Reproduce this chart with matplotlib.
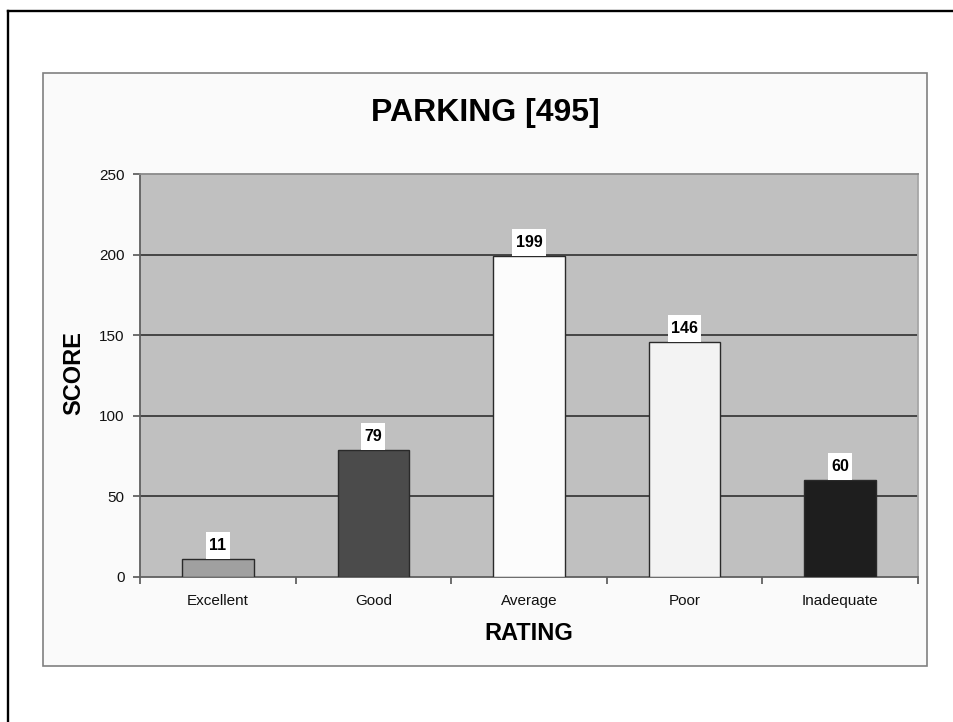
import matplotlib
matplotlib.use("Agg")
import matplotlib.pyplot as plt
from matplotlib.path import Path
from matplotlib.patches import Rectangle
from matplotlib.lines import Line2D
import numpy as np

categories = ["Excellent", "Good", "Average", "Poor", "Inadequate"]
scores = [11, 79, 199, 146, 60]
bar_colors = ["#a0a0a0", "#4b4b4b", "#fcfcfc", "#f3f3f3", "#1e1e1e"]
yticks = [0, 50, 100, 150, 200, 250]
title = "PARKING [495]"
xlabel = "RATING"
ylabel = "SCORE"

plt.rcParams['font.family'] = ['Liberation Sans', 'DejaVu Sans']

W, H = 954, 722
fig = plt.figure(figsize=(W / 100, H / 100), dpi=100)
fig.patch.set_facecolor("white")

# outer frame (top and left edges visible)
fig.add_artist(Line2D([7.8 / W, 7.8 / W], [-0.1, 1 - 11.2 / H], transform=fig.transFigure,
                      color="black", lw=1.7, solid_capstyle="projecting"))
fig.add_artist(Line2D([7.8 / W, 1.1], [1 - 11.2 / H, 1 - 11.2 / H], transform=fig.transFigure,
                      color="black", lw=1.7, solid_capstyle="projecting"))

# chart area box
fig.add_artist(Rectangle((43.5 / W, 1 - 666 / H), (927 - 43.5) / W, (666 - 72.7) / H,
                         transform=fig.transFigure, facecolor="#fafafa",
                         edgecolor="#808080", lw=1.2, zorder=0))

ax = fig.add_axes([140 / W, 1 - 577 / H, (918 - 140) / W, (577 - 174) / H])
ax.set_facecolor("#c0c0c0")

x = np.arange(len(categories))
bars = ax.bar(x, scores, width=0.46, color=bar_colors, edgecolor="#2a2a2a", lw=1.0, zorder=3)

ax.set_xlim(-0.5, len(categories) - 0.5)
ax.set_ylim(0, 250)
ax.set_yticks(yticks)
ax.set_yticklabels([str(v) for v in yticks], fontsize=11)
ax.set_xticks(x)
ax.set_xticklabels(categories, fontsize=11)
ax.set_xticks(np.arange(-0.5, len(categories), 1.0), minor=True)
ax.tick_params(axis="x", which="major", length=0, pad=12, colors="#111111")
ax.tick_params(axis="x", which="minor", length=5, width=1.2, color="#555555", direction="out")
ax.tick_params(axis="y", length=5, width=1.2, color="#555555", pad=6, labelcolor="#111111")

for yv in yticks[1:-1]:
    ax.axhline(yv, color="#3c3c3c", lw=1.3, zorder=1)

for side in ["left", "bottom"]:
    ax.spines[side].set_color("#606060")
    ax.spines[side].set_linewidth(1.3)
ax.spines["top"].set_color("#8a8a8a")
ax.spines["top"].set_linewidth(1.3)
ax.spines["right"].set_color("#a6a6a6")
ax.spines["right"].set_linewidth(1.3)


def label_box(x0, y0, width, height, mutation_size):
    padx = 0.2 * mutation_size
    pady = 0.38 * mutation_size
    x0, y0 = x0 - padx, y0 - pady
    x1, y1 = x0 + width + 2 * padx, y0 + height + 2 * pady
    return Path([(x0, y0), (x1, y0), (x1, y1), (x0, y1), (x0, y0)], closed=True)


fs_val = 11.5
for xi, v in zip(x, scores):
    ax.annotate(str(v), (xi, v), xytext=(0, 0.38 * fs_val), textcoords="offset points",
                ha="center", va="bottom", fontsize=fs_val, fontweight="bold", color="black",
                bbox=dict(boxstyle=label_box, facecolor="white", edgecolor="none"), zorder=5)

fig.text(485 / W, 1 - 113 / H, title, ha="center", va="center", fontsize=23,
         fontweight="bold", color="black")

ax.set_xlabel(xlabel, fontsize=17, fontweight="bold", va="center", ha="center")
ax.xaxis.set_label_coords(0.5, (577 - 634) / 403)
ax.set_ylabel(ylabel, fontsize=17, fontweight="bold", va="center", ha="center")
ax.yaxis.set_label_coords((73.5 - 140) / 778, (577 - 373) / 403)

fig.savefig("out.png", dpi=100)
